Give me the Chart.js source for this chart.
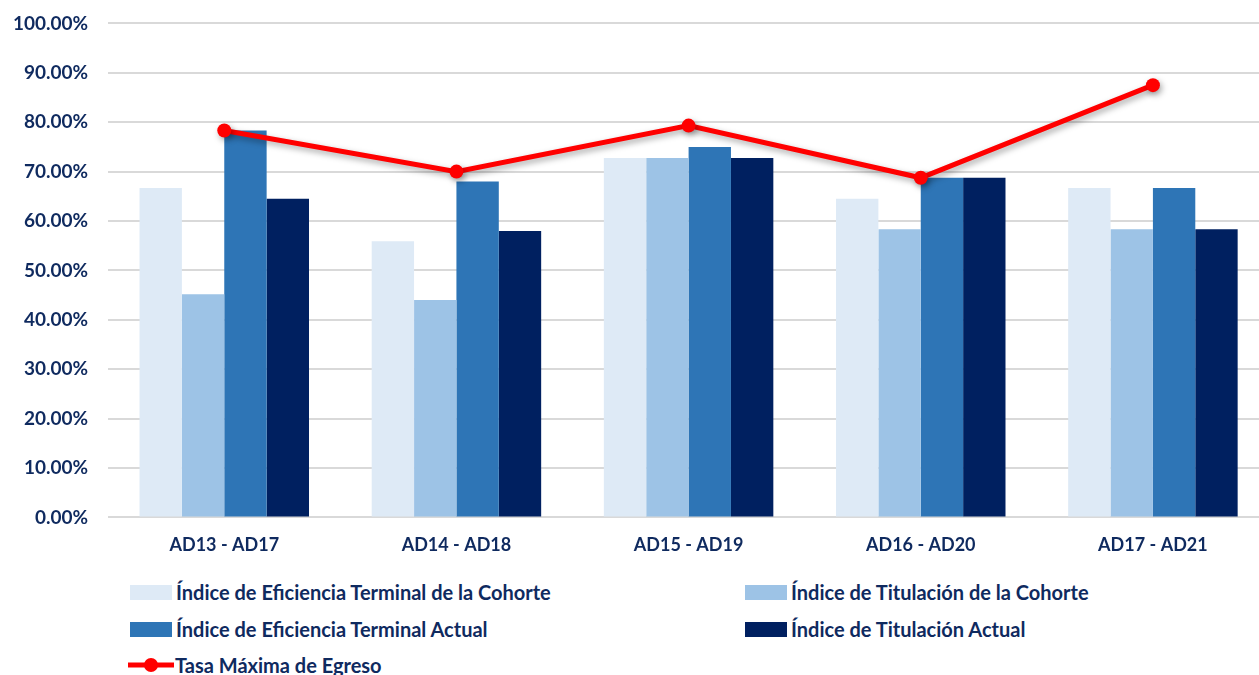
<!DOCTYPE html>
<html>
<head>
<meta charset="utf-8">
<script src="https://cdn.jsdelivr.net/npm/chart.js@4/dist/chart.umd.min.js"></script>
<style>
  body { margin: 0; background: #fff; overflow: hidden; width: 1259px; height: 675px; position: relative; }
  #grafica { position: absolute; left: 0; top: -8px; }
  #legend { position: absolute; left: 0; top: 0; font-family: Lato, sans-serif; font-weight: bold; font-size: 20px; color: #0f2a5f; }
  .item { position: absolute; white-space: nowrap; display: flex; align-items: center; height: 22px; }
  .box { width: 42px; height: 15px; margin-right: 4px; }
</style>
</head>
<body>
<canvas id="grafica" width="1276" height="573"></canvas>
<div id="legend"></div>
<script>
// datos (en %)
const periodos = ['AD13 - AD17', 'AD14 - AD18', 'AD15 - AD19', 'AD16 - AD20', 'AD17 - AD21'];
const eficienciaCohorte = [66.67, 55.88, 72.73, 64.52, 66.67];
const titulacionCohorte = [45.16, 44.0, 72.73, 58.33, 58.33];
const eficienciaActual = [78.33, 68.0, 75.0, 68.75, 66.67];
const titulacionActual = [64.52, 58.0, 72.73, 68.75, 58.33];
const tasaMaxima = [78.33, 70.0, 79.31, 68.75, 87.5];
const ticksY = [0, 10, 20, 30, 40, 50, 60, 70, 80, 90, 100];

const azulTexto = '#0f2a5f';

// sombra para la línea roja
const sombraLinea = {
    id: 'sombraLinea',
    beforeDatasetDraw(chart, args) {
        if (args.meta.type === 'line') {
            chart.ctx.save();
            chart.ctx.shadowColor = 'rgba(0,0,0,0.35)';
            chart.ctx.shadowBlur = 6;
            chart.ctx.shadowOffsetX = 2;
            chart.ctx.shadowOffsetY = 3;
        }
    },
    afterDatasetDraw(chart, args) {
        if (args.meta.type === 'line') chart.ctx.restore();
    }
};

const config = {
    type: 'bar',
    data: {
        labels: periodos,
        datasets: [
            { type: 'line', label: 'Tasa Máxima de Egreso', data: tasaMaxima, borderColor: '#ff0000', backgroundColor: '#ff0000',
              borderWidth: 5, pointRadius: 7, pointHoverRadius: 7, pointBackgroundColor: '#ff0000', pointBorderWidth: 0, order: 0 },
            { label: 'Índice de Eficiencia Terminal de la Cohorte', data: eficienciaCohorte, backgroundColor: '#deeaf6', order: 1 },
            { label: 'Índice de Titulación de la Cohorte', data: titulacionCohorte, backgroundColor: '#9dc3e6', order: 1 },
            { label: 'Índice de Eficiencia Terminal Actual', data: eficienciaActual, backgroundColor: '#2e75b6', order: 1 },
            { label: 'Índice de Titulación Actual', data: titulacionActual, backgroundColor: '#002060', order: 1 }
        ]
    },
    options: {
        responsive: false,
        animation: false,
        layout: { padding: { left: -7, top: 0, right: 0, bottom: 0 } },
        datasets: { bar: { barPercentage: 1, categoryPercentage: 0.73 } },
        plugins: { legend: { display: false }, tooltip: { enabled: false } },
        scales: {
            x: {
                grid: { display: false },
                border: { display: false },
                ticks: { color: azulTexto, font: { family: 'Lato', weight: 'bold', size: 18 }, padding: 9 }
            },
            y: {
                min: 0, max: 100,
                afterBuildTicks: axis => { axis.ticks = ticksY.map(v => ({ value: v })); },
                grid: { color: '#d9d9d9', lineWidth: 2, drawTicks: false },
                border: { display: false },
                ticks: { color: azulTexto, font: { family: 'Lato', weight: 'bold', size: 19 }, padding: 20,
                         callback: v => v.toFixed(2) + '%' }
            }
        }
    },
    plugins: [sombraLinea]
};

const grafica = new Chart(document.getElementById('grafica'), config);

// leyenda en dos columnas, como en el original
const legend = document.getElementById('legend');
const posiciones = [[130, 592], [745, 592], [130, 629], [745, 629], [128, 665]];
const orden = [1, 2, 3, 4, 0];
orden.forEach((i, k) => {
    const ds = grafica.data.datasets[i];
    const div = document.createElement('div');
    div.className = 'item';
    div.style.left = posiciones[k][0] + 'px';
    div.style.top = (posiciones[k][1] - 11) + 'px';
    if (ds.type === 'line') {
        div.innerHTML = '<svg width="46" height="20" style="margin-right:1px"><line x1="0" y1="10" x2="46" y2="10" stroke="#ff0000" stroke-width="5"/><circle cx="23" cy="10" r="7" fill="#ff0000"/></svg>' + ds.label;
    } else {
        div.innerHTML = '<span class="box" style="background:' + ds.backgroundColor + '"></span>' + ds.label;
    }
    legend.appendChild(div);
});
</script>
</body>
</html>
